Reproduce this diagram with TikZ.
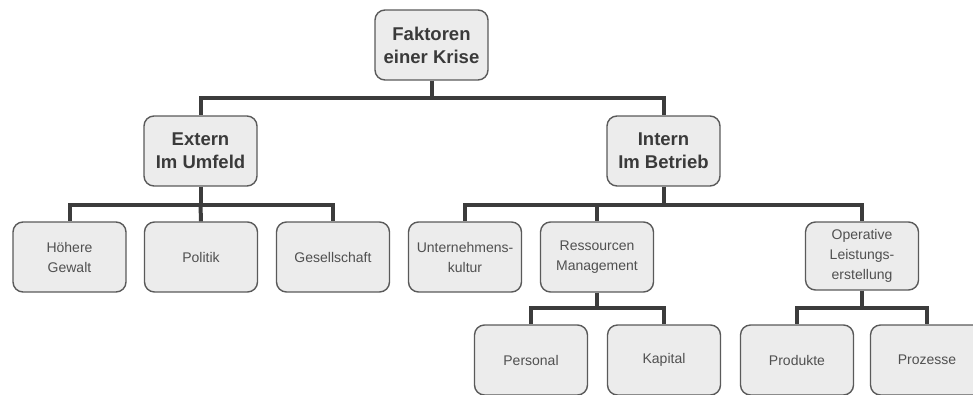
\documentclass[tikz,border=0pt]{standalone}
\usepackage{fontspec}
\setmainfont{Liberation Sans}
\usetikzlibrary{calc}
\definecolor{boxfill}{HTML}{ECECEC}
\definecolor{boxline}{HTML}{5A5A5A}
\definecolor{connline}{HTML}{3C3C3C}
\definecolor{txtdark}{HTML}{3A3A3A}
\definecolor{txtgray}{HTML}{505050}
\tikzset{
  basebox/.style={draw=boxline, line width=1.4pt, fill=boxfill, rounded corners=10pt,
    minimum width=113pt, minimum height=70pt, inner sep=0pt, align=center},
  topbox/.style={basebox, text=txtdark, font=\fontsize{18.5}{23}\selectfont\bfseries},
  leafbox/.style={basebox, text=txtgray, font=\fontsize{14}{20}\selectfont},
  conn/.style={draw=connline, line width=4pt, line join=miter, line cap=butt}
}
\begin{document}
\begin{tikzpicture}[x=1pt,y=-1pt]
\useasboundingbox (0,0) rectangle (973,394);
\clip (0,0) rectangle (973,394);
% nodes
\node[topbox] (root) at (431.5,45) {Faktoren\\einer Krise};
\node[topbox] (ext) at (200.5,151) {Extern\\Im Umfeld};
\node[topbox] (int) at (663.5,151) {Intern\\Im Betrieb};
\node[leafbox] (hg) at (69.5,257) {Höhere\\Gewalt};
\node[leafbox] (pol) at (201,257) {Politik};
\node[leafbox] (ges) at (333,257) {Gesellschaft};
\node[leafbox] (uk) at (465,257) {Unternehmens-\\kultur};
\node[leafbox] (rm) at (597,257) {Ressourcen\\Management};
\node[leafbox, minimum height=68pt] (ol) at (862,256) {Operative\\Leistungs-\\erstellung};
\node[leafbox] (per) at (531,360) {Personal};
\node[leafbox] (kap) at (664,360) {Kapital};
\node[leafbox] (pro) at (797,360) {Produkte};
\node[leafbox] (prz) at (927,360) {Prozesse};
% junction coordinates
\coordinate (j0) at (431.5,98);
\coordinate (j1) at (200.5,205);
\coordinate (j2) at (663.5,205);
\coordinate (j3) at (597,308);
\coordinate (j4) at (862,308);
% connectors
\draw[conn] (root.south) -- (j0);
\draw[conn] (j0) -| (ext.north);
\draw[conn] (j0) -| (int.north);
\draw[conn] (ext.south) -- (j1);
\draw[conn] (j1) -| (hg.north);
\draw[conn] (j1) -- (pol.north);
\draw[conn] (j1) -| (ges.north);
\draw[conn] (int.south) -- (j2);
\draw[conn] (j2) -| (uk.north);
\draw[conn] (j2) -| (rm.north);
\draw[conn] (j2) -| (ol.north);
\draw[conn] (rm.south) -- (j3);
\draw[conn] (j3) -| (per.north);
\draw[conn] (j3) -| (kap.north);
\draw[conn] (ol.south) -- (j4);
\draw[conn] (j4) -| (pro.north);
\draw[conn] (j4) -| (prz.north);
\end{tikzpicture}
\end{document}
